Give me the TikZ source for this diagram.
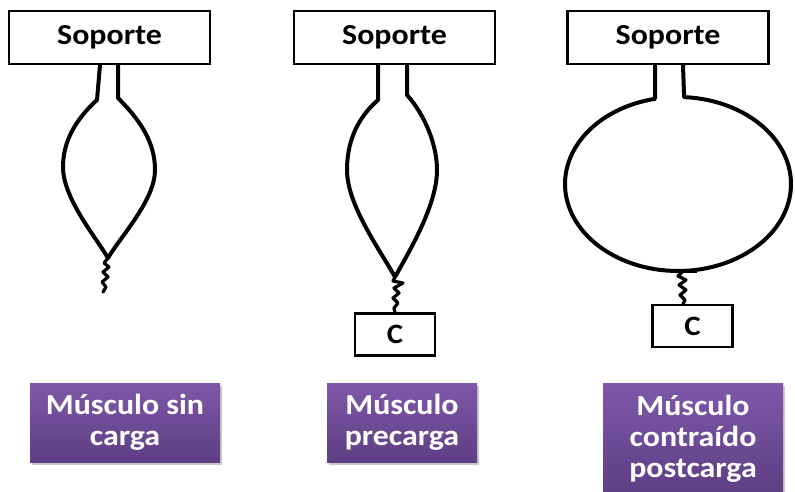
\documentclass[tikz,border=0pt]{standalone}
\usepackage{fontspec}
\setmainfont{Carlito}[FakeStretch=1.1]
\usetikzlibrary{shadows}

\definecolor{labtop}{RGB}{126,88,168}
\definecolor{labbot}{RGB}{94,62,132}

\tikzset{
  holder/.style={draw, line width=2.4pt, rectangle, minimum width=201pt, minimum height=53pt,
    inner sep=0pt, font=\fontsize{29}{31}\selectfont\bfseries},
  weight/.style={draw, line width=2.2pt, rectangle, minimum width=80pt, minimum height=42pt,
    inner sep=0pt, font=\fontsize{28}{30}\selectfont\bfseries},
  label/.style={rectangle, top color=labtop, bottom color=labbot, text=white, align=center,
    inner sep=0pt, font=\fontsize{29}{31}\selectfont\bfseries,
    drop shadow={shadow xshift=1.5pt, shadow yshift=-2.5pt, opacity=0.35, fill=black!60}},
  muscle/.style={line width=4pt, line join=round},
  twist/.style={line width=3.2pt, line join=round, line cap=round},
}

\begin{document}
\begin{tikzpicture}[x=1pt, y=-1pt]
  \useasboundingbox (0,0) rectangle (795,492);
  \fill[white] (0,0) rectangle (795,492);

  % supports
  \node[holder] (s1) at (109.5,37.5) {Soporte};
  \node[holder] (s2) at (394.5,37.5) {Soporte};
  \node[holder] (s3) at (668,37.5) {Soporte};

  % loads
  \node[weight] (c2) at (395,334.5) {C};
  \node[weight] (c3) at (692.5,326) {C};

  % muscle at rest, no load
  \draw[muscle] (100,65) -- (97,100)
    .. controls (75,120) and (63,142) .. (63,167)
    .. controls (63,198) and (95,236) .. (108,258) coordinate (t1)
    .. controls (121,236) and (155,200) .. (155,170)
    .. controls (155,142) and (140,120) .. (118,98) -- (118,65);
  \coordinate (e1) at (103,292);
  \draw[twist] (t1) -- (104,263) -- (109,267) -- (103,272) -- (108,277)
    -- (102,282) -- (106,287) -- (e1);

  % preloaded muscle
  \draw[muscle] (378,65) -- (378,100)
    .. controls (355,120) and (347,145) .. (347,170)
    .. controls (347,205) and (380,250) .. (395,277) coordinate (t2)
    .. controls (410,250) and (437,205) .. (437,170)
    .. controls (437,145) and (425,115) .. (407,95) -- (407,65);
  \draw[twist] (t2) -- (393,281) -- (403,283) -- (394,288) -- (399,293)
    -- (393,298) -- (398,303) -- (394,308) -- (c2.north);

  % contracted muscle after load
  \draw[muscle] (655,65) -- (655,99)
    plot[domain=101.2:446.9, samples=120] ({678+113*cos(\x)}, {184-87*sin(\x)})
    -- (683,65);
  \draw[line width=3pt] (672,271) -- (697,271);
  \draw[twist] (683,271) -- (678,276) -- (686,280) -- (679,285) -- (686,290)
    -- (680,295) -- (685,300) -- (c3.north -| 683,0);

  % captions
  \node[label, minimum width=190pt, minimum height=79pt] (l1) at (125,422.5)
    {Músculo sin\\carga};
  \node[label, minimum width=150pt, minimum height=79pt] (l2) at (402,422.5)
    {Músculo\\precarga};
  \node[label, minimum width=180pt, minimum height=112pt, anchor=north] (l3) at (693,383)
    {Músculo\\contraído\\postcarga};
\end{tikzpicture}
\end{document}
